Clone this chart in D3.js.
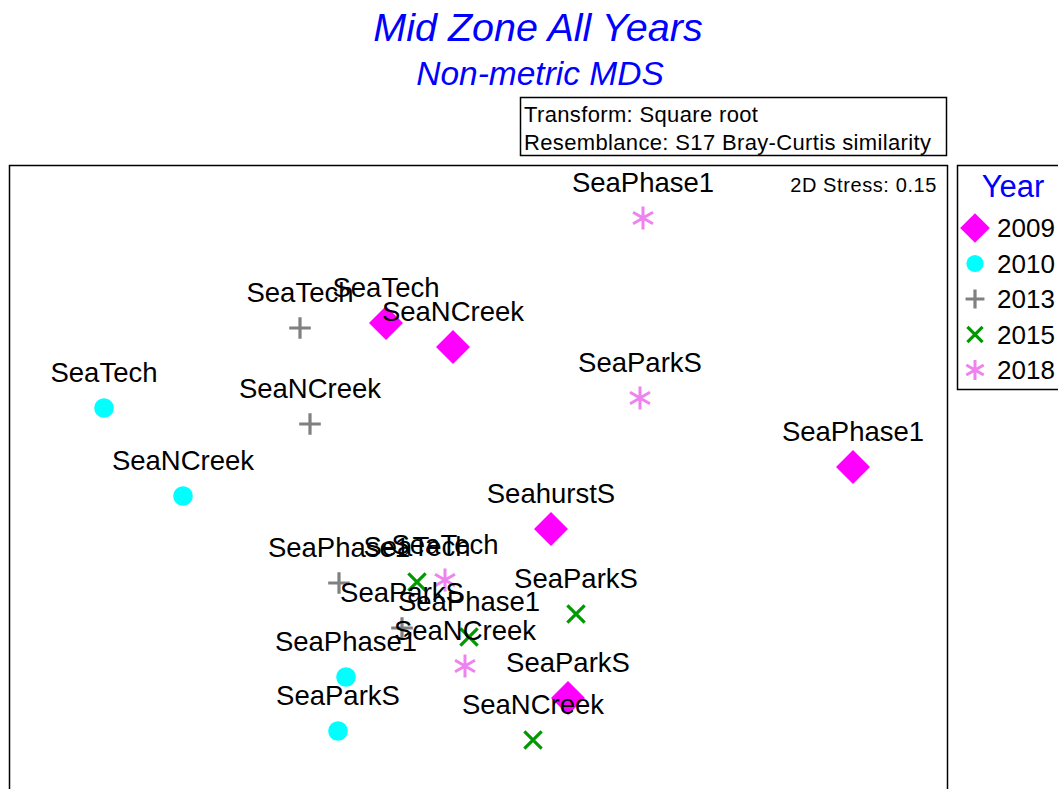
<!DOCTYPE html>
<html>
<head>
<meta charset="utf-8">
<script src="https://cdn.jsdelivr.net/npm/d3@7"></script>
<style>
  body { margin: 0; background: #fff; }
  svg { display: block; font-family: "Liberation Sans", Arial, sans-serif; }
</style>
</head>
<body>
<svg id="chart"></svg>
<script>
// nMDS ordination scores, one array per year
const years = ['2009', '2010', '2013', '2015', '2018'];

const sites2009 = ['SeaTech', 'SeaNCreek', 'SeaPhase1', 'SeahurstS', 'SeaParkS'];
const x2009 = [-0.46, -0.125, 1.875, 0.365, 0.45];
const y2009 = [0.785, 0.665, 0.065, -0.245, -1.09];

const sites2010 = ['SeaTech', 'SeaNCreek', 'SeaPhase1', 'SeaParkS'];
const x2010 = [-1.87, -1.475, -0.66, -0.70];
const y2010 = [0.36, -0.08, -0.985, -1.255];

const sites2013 = ['SeaTech', 'SeaNCreek', 'SeaPhase1', 'SeaParkS'];
const x2013 = [-0.89, -0.84, -0.695, -0.38];
const y2013 = [0.76, 0.28, -0.515, -0.74];

const sites2015 = ['SeaTech', 'SeaParkS', 'SeaPhase1', 'SeaNCreek'];
const x2015 = [-0.305, 0.49, -0.045, 0.275];
const y2015 = [-0.51, -0.67, -0.785, -1.30];

const sites2018 = ['SeaPhase1', 'SeaParkS', 'SeaTech', 'SeaNCreek'];
const x2018 = [0.825, 0.81, -0.165, -0.065];
const y2018 = [1.31, 0.41, -0.50, -0.93];

const stress = 0.15;
const infoLines = ['Transform: Square root', 'Resemblance: S17 Bray-Curtis similarity'];

const W = 1058, H = 789;
const svg = d3.select('#chart').attr('width', W).attr('height', H);

const groups = [
  {year: '2009', sites: sites2009, xs: x2009, ys: y2009, shape: 'diamond', color: '#ff00ff'},
  {year: '2010', sites: sites2010, xs: x2010, ys: y2010, shape: 'circle', color: '#00ffff'},
  {year: '2013', sites: sites2013, xs: x2013, ys: y2013, shape: 'plus', color: '#808080'},
  {year: '2015', sites: sites2015, xs: x2015, ys: y2015, shape: 'cross', color: '#009900'},
  {year: '2018', sites: sites2018, xs: x2018, ys: y2018, shape: 'star', color: '#ee82ee'}
];

const points = [];
groups.forEach(g => {
  g.sites.forEach((s, i) => points.push({site: s, x: g.xs[i], y: g.ys[i], g: g}));
});

const plot = {left: 9, top: 165, right: 947, bottom: 800};

const x = d3.scaleLinear().domain([-2.345, 2.345]).range([9, 947]);
const y = d3.scaleLinear().domain([-1.545, 1.575]).range([789, 165]);

// draws a marker centred at 0,0
function drawMarker(sel, shape, color, s) {
  if (shape === 'diamond') {
    sel.append('path')
      .attr('d', d3.symbol(d3.symbolSquare, 2 * s * s * 0.5)())
      .attr('transform', 'rotate(45)')
      .attr('fill', color);
  } else if (shape === 'circle') {
    sel.append('circle').attr('r', s * 0.41).attr('fill', color);
  } else if (shape === 'plus') {
    const h = s * 0.45;
    sel.append('path').attr('d', `M${-h},0H${h}M0,${-h}V${h}`)
      .attr('stroke', color).attr('stroke-width', 3.2).attr('fill', 'none');
  } else if (shape === 'cross') {
    const h = s * 0.36;
    sel.append('path').attr('d', `M${-h},${-h}L${h},${h}M${-h},${h}L${h},${-h}`)
      .attr('stroke', color).attr('stroke-width', 3.2).attr('fill', 'none');
  } else if (shape === 'star') {
    const h = s * 0.48;
    const a = h * Math.cos(Math.PI / 6), b = h * 0.5;
    sel.append('path').attr('d', `M0,${-h}V${h}M${-a},${-b}L${a},${b}M${-a},${b}L${a},${-b}`)
      .attr('stroke', color).attr('stroke-width', 3).attr('fill', 'none');
  }
}

// titles
svg.append('text')
  .attr('x', 538).attr('y', 41)
  .attr('text-anchor', 'middle')
  .attr('font-size', 39.5).attr('font-style', 'italic')
  .attr('fill', '#0000ff')
  .text('Mid Zone All Years');

svg.append('text')
  .attr('x', 540).attr('y', 85)
  .attr('text-anchor', 'middle')
  .attr('font-size', 33.5).attr('font-style', 'italic')
  .attr('fill', '#0000ff')
  .text('Non-metric MDS');

// info box
svg.append('rect')
  .attr('x', 520.5).attr('y', 97.5).attr('width', 426).attr('height', 58)
  .attr('fill', 'none').attr('stroke', '#000').attr('stroke-width', 1.5);

svg.selectAll('.info')
  .data(infoLines)
  .join('text')
  .attr('class', 'info')
  .attr('x', 524).attr('y', (d, i) => 122 + i * 28)
  .attr('font-size', 22)
  .attr('letter-spacing', 0.35)
  .attr('fill', '#000')
  .text(d => d);

// plot frame
svg.append('rect')
  .attr('x', plot.left + 0.5).attr('y', plot.top + 0.5)
  .attr('width', plot.right - plot.left).attr('height', plot.bottom - plot.top)
  .attr('fill', 'none').attr('stroke', '#000').attr('stroke-width', 1.5);

svg.append('text')
  .attr('x', 937).attr('y', 192)
  .attr('text-anchor', 'end')
  .attr('font-size', 20)
  .attr('letter-spacing', 0.6)
  .text('2D Stress: ' + stress.toFixed(2));

// points
const pts = svg.append('g');
points.forEach(p => {
  const g = pts.append('g').attr('transform', `translate(${x(p.x)},${y(p.y)})`);
  drawMarker(g, p.g.shape, p.g.color, 24);
});

// labels
svg.append('g').selectAll('text')
  .data(points)
  .join('text')
  .attr('x', d => x(d.x))
  .attr('y', d => y(d.y) - 26)
  .attr('text-anchor', 'middle')
  .attr('font-size', 27.5)
  .attr('fill', '#000')
  .text(d => d.site);

// legend
const lg = svg.append('g');
lg.append('rect')
  .attr('x', 957.5).attr('y', 165.5).attr('width', 120).attr('height', 224)
  .attr('fill', 'none').attr('stroke', '#000').attr('stroke-width', 1.5);

lg.append('text')
  .attr('x', 1013).attr('y', 197)
  .attr('text-anchor', 'middle')
  .attr('font-size', 31)
  .attr('fill', '#0000ff')
  .text('Year');

const ly = d3.scalePoint().domain(years).range([228, 370]);
groups.forEach(g => {
  const item = lg.append('g').attr('transform', `translate(975,${ly(g.year)})`);
  drawMarker(item, g.shape, g.color, 21);
  item.append('text')
    .attr('x', 22).attr('y', 9)
    .attr('font-size', 26)
    .attr('fill', '#000')
    .text(g.year);
});
</script>
</body>
</html>
